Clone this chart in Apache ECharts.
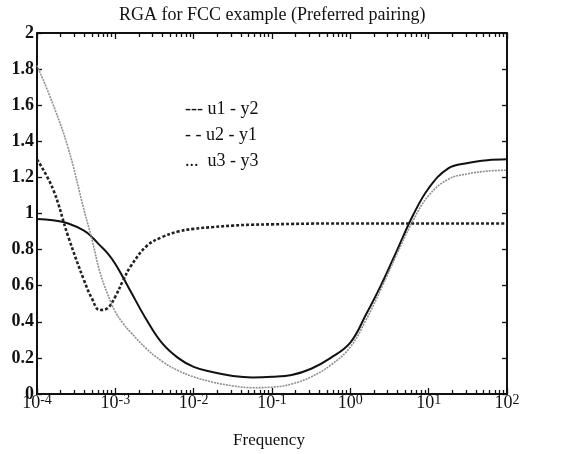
<!DOCTYPE html>
<html>
<head>
<meta charset="utf-8">
<script src="https://cdn.jsdelivr.net/npm/echarts@6/dist/echarts.min.js"></script>
<style>
  html, body { margin: 0; padding: 0; background: #fff; }
  #chart { width: 563px; height: 454px; }
</style>
</head>
<body>
<div id="chart"></div>
<script>
// frequency grid as log10 exponents
const logFreq = [-4, -3.8, -3.6, -3.4, -3.3, -3.2, -3.1, -3.0, -2.9, -2.8, -2.6, -2.4, -2.2, -2.0,
  -1.75, -1.5, -1.25, -1.0, -0.75, -0.5, -0.25, 0, 0.2, 0.4, 0.6, 0.8, 1.0, 1.25, 1.5, 1.75, 2.0];
const u1y2 = [0.97, 0.963, 0.945, 0.905, 0.87, 0.825, 0.78, 0.72, 0.645, 0.565, 0.41, 0.28, 0.20, 0.15,
  0.12, 0.10, 0.092, 0.095, 0.105, 0.14, 0.20, 0.285, 0.44, 0.61, 0.80, 0.99, 1.14, 1.25, 1.28, 1.295, 1.30];
const u2y1 = [1.30, 1.14, 0.87, 0.63, 0.53, 0.465, 0.475, 0.54, 0.63, 0.71, 0.82, 0.87, 0.90, 0.915,
  0.925, 0.933, 0.938, 0.94, 0.942, 0.944, 0.945, 0.945, 0.945, 0.945, 0.945, 0.945, 0.945, 0.945, 0.945, 0.945, 0.945];
const u3y3 = [1.82, 1.61, 1.36, 1.02, 0.86, 0.68, 0.555, 0.455, 0.39, 0.34, 0.25, 0.18, 0.13, 0.095,
  0.065, 0.045, 0.035, 0.038, 0.055, 0.095, 0.16, 0.26, 0.41, 0.59, 0.78, 0.96, 1.10, 1.19, 1.22, 1.235, 1.24];

const decades = [1e-4, 1e-3, 1e-2, 1e-1, 1, 10, 100];
const legendLines = ["--- u1 - y2", "- - u2 - y1", "...  u3 - y3"];
const titleText = "RGA for FCC example (Preferred pairing)";
const xName = "Frequency";

const FONT = "Liberation Serif";
const INK = "#111";

const minorTicks = [];
decades.slice(0, -1).forEach(d => {
  for (let k = 2; k <= 9; k++) minorTicks.push(k * d);
});

function toPairs(values) {
  return logFreq.map((e, i) => [Math.pow(10, e), values[i]]);
}

function xAxisBase(position, ticks, len, withLine) {
  return {
    type: "log",
    logBase: 10,
    min: 1e-4,
    max: 100,
    position,
    axisLine: { show: withLine, lineStyle: { color: INK, width: 2 } },
    axisTick: { inside: true, length: len, customValues: ticks, lineStyle: { color: INK, width: 1.3 } },
    axisLabel: { show: false },
    splitLine: { show: false }
  };
}

const bottomMain = xAxisBase("bottom", decades, 6, true);
bottomMain.axisLabel = {
  show: true,
  customValues: decades,
  margin: -1,
  formatter: v => "{b|10}{s|" + Math.round(Math.log10(v)) + "}",
  rich: {
    b: { fontFamily: FONT, fontSize: 18, color: INK, lineHeight: 20 },
    s: { fontFamily: FONT, fontSize: 14, color: INK, verticalAlign: "top", lineHeight: 20, padding: [0, 0, 7, 0] }
  }
};
bottomMain.name = xName;
bottomMain.nameLocation = "middle";
bottomMain.nameGap = 38;
bottomMain.nameTextStyle = { fontFamily: FONT, fontSize: 17, color: INK, padding: [0, 6, 0, 0] };

function yAxisBase(position, labels) {
  return {
    type: "value",
    min: 0,
    max: 2,
    interval: 0.2,
    position,
    axisLine: { show: true, lineStyle: { color: INK, width: 2 } },
    axisTick: { inside: true, length: 5, lineStyle: { color: INK, width: 1.3 } },
    axisLabel: labels
      ? { show: true, margin: 3, fontFamily: FONT, fontSize: 18, fontWeight: "bold", color: INK }
      : { show: false },
    splitLine: { show: false }
  };
}

const chart = echarts.init(document.getElementById("chart"));

chart.setOption({
  backgroundColor: "#fff",
  animation: false,
  title: {
    text: titleText,
    left: 114,
    top: 1,
    textStyle: { fontFamily: FONT, fontSize: 18, fontWeight: "normal", color: INK }
  },
  grid: { left: 37, right: 56, top: 33, bottom: 55 },
  xAxis: [
    bottomMain,
    xAxisBase("bottom", minorTicks, 4, false),
    xAxisBase("top", decades, 6, true),
    xAxisBase("top", minorTicks, 4, false)
  ],
  yAxis: [yAxisBase("left", true), yAxisBase("right", false)],
  graphic: legendLines.map((t, i) => ({
    type: "text",
    left: 185,
    top: 100 + i * 26,
    style: { text: t, fontFamily: FONT, fontSize: 18, fill: INK }
  })),
  series: [
    {
      name: "u1 - y2",
      type: "line",
      data: toPairs(u1y2),
      showSymbol: false,
      smooth: 0.4,
      lineStyle: { color: INK, width: 2 }
    },
    {
      name: "u2 - y1",
      type: "line",
      data: toPairs(u2y1),
      showSymbol: false,
      smooth: 0.4,
      lineStyle: { color: "#222", width: 2.6, type: [3, 2] }
    },
    {
      name: "u3 - y3",
      type: "line",
      data: toPairs(u3y3),
      showSymbol: false,
      smooth: 0.4,
      lineStyle: { color: "#8f8f8f", width: 1.6, type: [2, 1] }
    }
  ]
});
</script>
</body>
</html>
